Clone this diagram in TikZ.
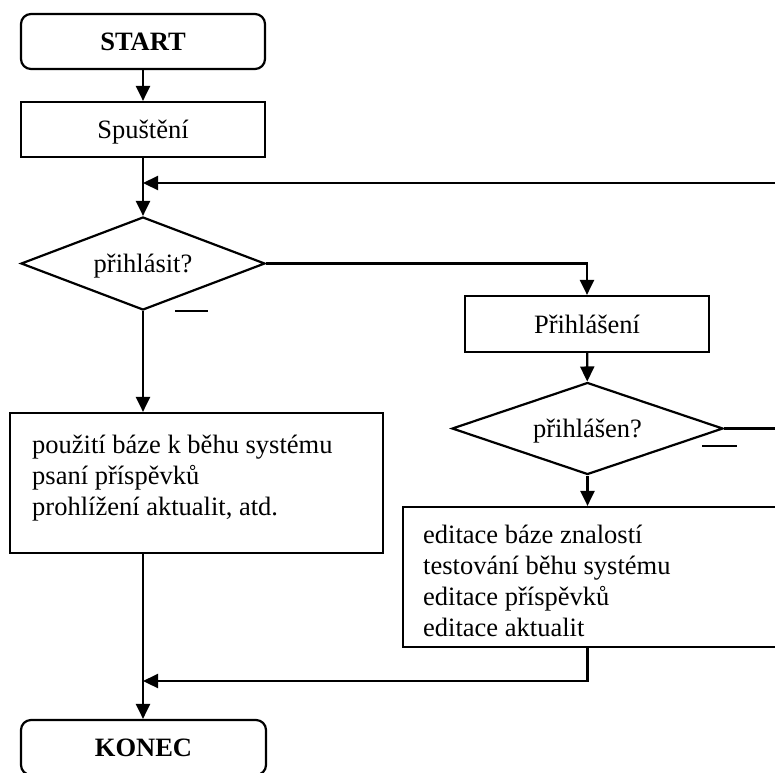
\documentclass[tikz,border=0pt]{standalone}
\usepackage{fontspec}
\setmainfont{Liberation Serif}
\usetikzlibrary{shapes.geometric,arrows.meta}
\begin{document}
\begin{tikzpicture}[x=1pt,y=-1pt,
  every node/.style={font=\fontsize{26.5}{31}\selectfont},
  ln/.style={line width=2.2pt},
  arr/.style={line width=2.2pt,-{Triangle[length=15pt,width=14pt]}},
  box/.style={draw,line width=2.2pt,rectangle,inner sep=0pt,text height=20pt,text depth=2pt},
  term/.style={box,rounded corners=10pt,font=\fontsize{26.5}{31}\selectfont\bfseries},
  dec/.style={draw,line width=2.2pt,diamond,inner sep=0pt,text height=20pt,text depth=2pt},
  txt/.style={anchor=north west,inner sep=0pt,align=left}
]
\useasboundingbox (0,0) rectangle (775,772);
\begin{scope}
\clip (0,0) rectangle (775,772);
% nodes
\node[term,minimum width=244pt,minimum height=55pt] (start) at (143,41.5) {START};
\node[box,minimum width=244pt,minimum height=55pt] (spust) at (143,129.5) {Spuštění};
\node[dec,aspect=2.62,minimum width=244pt,minimum height=93pt] (dia1) at (143,263.5) {přihlásit?};
\node[box,minimum width=244pt,minimum height=56pt] (prihl) at (587,324) {Přihlášení};
\node[dec,aspect=2.95,minimum width=271pt,minimum height=92pt] (dia2) at (587.5,428.5) {přihlášen?};
\node[box,minimum width=373pt,minimum height=140pt] (left) at (196.5,483) {};
\node[txt] (lefttxt) at (32,431.3) {\strut použití báze k běhu systému\\psaní příspěvků\\prohlížení aktualit, atd.};
\node[box,minimum width=397pt,minimum height=140pt] (edit) at (601.5,577) {};
\node[txt] (edittxt) at (423,521.3) {\strut editace báze znalostí\\testování běhu systému\\editace příspěvků\\editace aktualit};
\node[term,minimum width=245pt,minimum height=55pt] (konec) at (143.5,747.5) {KONEC};
% coordinates
\coordinate (fbJ) at (143,183);
\coordinate (fbOut) at (800,183);
\coordinate (rtOut) at (800,428.5);
\coordinate (endJ) at (143,681);
% connectors
\draw[arr] (start) -- (spust);
\draw[arr] (spust) -- (dia1);
\draw[arr] (dia2.east) -- (rtOut) -- (fbOut) -- (fbJ);
\draw[arr] (dia1.east) -| (prihl.north);
\draw[arr] (prihl) -- (dia2);
\draw[arr] (dia1.south) -- (dia1.south |- left.north);
\draw[arr] (dia1.south |- left.south) -- (dia1.south |- konec.north);
\draw[arr] (dia2.south) -- (dia2.south |- edit.north);
\draw[arr] (dia2.south |- edit.south) |- (endJ);
% "no" marks
\draw[ln] (175,311) -- (208,311);
\draw[ln] (702,446) -- (737,446);
\end{scope}
\end{tikzpicture}
\end{document}
